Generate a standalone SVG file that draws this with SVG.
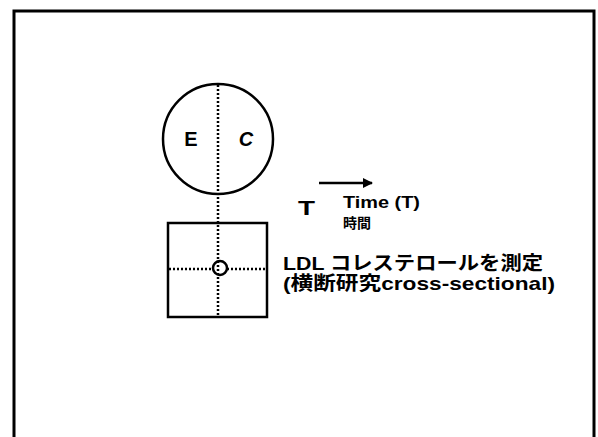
<svg xmlns="http://www.w3.org/2000/svg" width="598" height="437" viewBox="0 0 598 437">
<defs>
<style>
.frame{fill:none;stroke:#000;stroke-width:3}
.shape{fill:none;stroke:#000;stroke-width:2.5}
.dot{fill:none;stroke:#000;stroke-width:2.5;stroke-dasharray:2 2}
.t{font-family:"Liberation Sans","Noto Sans CJK JP",sans-serif;font-weight:bold;fill:#000}
</style>
<marker id="ah" viewBox="0 0 10 10" refX="9" refY="5" markerWidth="4" markerHeight="4" orient="auto" markerUnits="strokeWidth">
<path d="M0,0 L10,5 L0,10 z" fill="#000"/>
</marker>
</defs>
<rect width="598" height="437" fill="#fff"/>
<rect class="frame" x="14" y="11" width="580" height="440"/>
<g id="population">
<circle class="shape" cx="218" cy="139" r="55"/>
<text class="t" x="191" y="146" font-size="20" text-anchor="middle">E</text>
<text class="t" x="246" y="146" font-size="20" text-anchor="middle" font-style="italic">C</text>
</g>
<g id="table">
<rect class="shape" x="168" y="223" width="99" height="94"/>
<circle class="shape" cx="220" cy="268" r="7" stroke-width="3"/>
</g>
<g id="connectors">
<line class="dot" x1="218" y1="85" x2="218" y2="317"/>
<line class="dot" x1="169" y1="269" x2="213" y2="269"/>
<line class="dot" x1="227" y1="269" x2="266" y2="269"/>
<line stroke="#000" stroke-width="2.5" x1="319" y1="183" x2="372" y2="183" marker-end="url(#ah)"/>
</g>
<g id="time">
<text class="t" x="298" y="215" font-size="20" textLength="17" lengthAdjust="spacingAndGlyphs">T</text>
<text class="t" x="343" y="208" font-size="17" textLength="77" lengthAdjust="spacingAndGlyphs">Time (T)</text>
<text class="t" x="343" y="228" font-size="14">時間</text>
</g>
<g id="label">
<text class="t" x="283" y="270" font-size="19" textLength="260" lengthAdjust="spacingAndGlyphs">LDL コレステロールを測定</text>
<text class="t" x="283" y="290" font-size="19" textLength="272" lengthAdjust="spacingAndGlyphs">(横断研究cross-sectional)</text>
</g>
</svg>
